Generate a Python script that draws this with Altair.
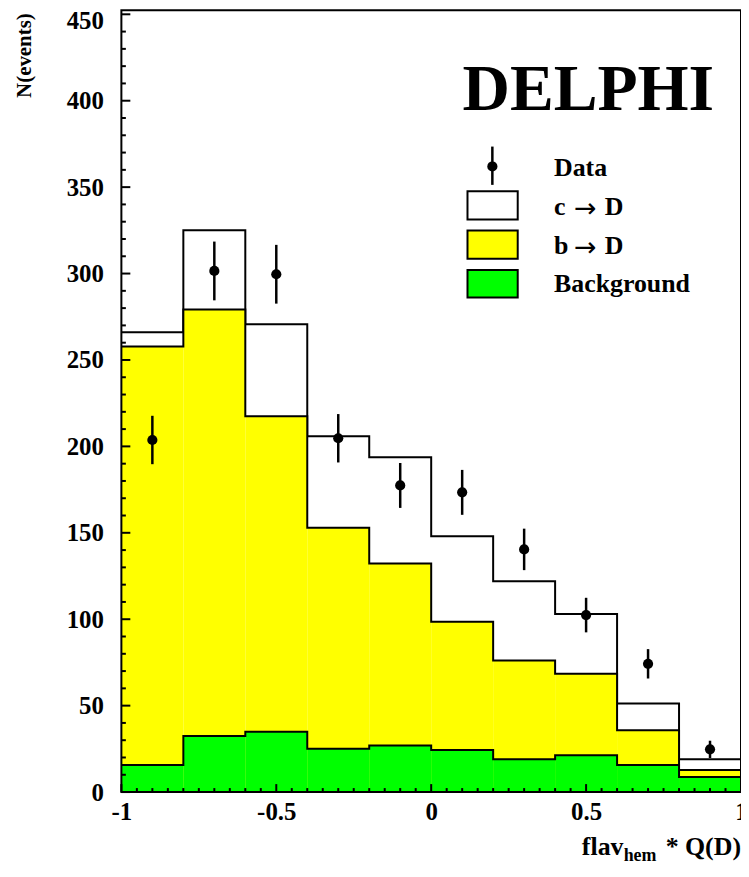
import altair as alt
import pandas as pd

# ---------------- values ----------------
bin_low = [-1.0, -0.8, -0.6, -0.4, -0.2, 0.0, 0.2, 0.4, 0.6, 0.8]
bin_high = [-0.8, -0.6, -0.4, -0.2, 0.0, 0.2, 0.4, 0.6, 0.8, 1.0]
total_mc = [266.0, 325.0, 270.6, 205.8, 193.7, 148.0, 122.0, 103.0, 51.2, 19.0]   # c->D + b->D + background
b_plus_bkg = [257.8, 279.2, 217.4, 152.9, 132.2, 98.6, 76.1, 68.5, 35.8, 12.8]   # b->D + background
background = [15.7, 32.4, 34.9, 25.0, 26.9, 24.4, 19.0, 21.3, 15.7, 8.7]
data_x = [-0.9, -0.7, -0.5, -0.3, -0.1, 0.1, 0.3, 0.5, 0.7, 0.9]
data_y = [203.7, 301.5, 299.6, 204.7, 177.4, 173.4, 140.4, 102.4, 74.2, 24.7]
data_err = [14, 17, 17, 14, 13, 13, 12, 10, 8.5, 5]
y_major = [0, 50, 100, 150, 200, 250, 300, 350, 400, 450]
x_major = [-1, -0.5, 0, 0.5, 1]
legend_labels = ["Data", "c", "b", "Background"]
legend_target = "D"
arrow = "\u2192"
experiment = "DELPHI"
y_title = "N(events)"
x_title = ["flav", "hem", "* Q(D)"]

# ---------------- styling ----------------
W, H = 623, 786
FONT = "Liberation Serif"
YELLOW = "#ffff00"
GREEN = "#00ff00"

xs = alt.Scale(domain=[-1, 1], nice=False, zero=False)
ys = alt.Scale(domain=[0, 452.3], nice=False, zero=False)

xa = alt.Axis(values=x_major, labelExpr="'' + datum.value", labelFont=FONT,
              labelFontWeight="bold", labelFontSize=25, labelColor="black",
              ticks=False, tickSize=0, domain=False, grid=False, title=None,
              labelPadding=8, labelFlush=False, labelOverlap=False)
ya = alt.Axis(values=y_major, format="d", labelFont=FONT,
              labelFontWeight="bold", labelFontSize=25, labelColor="black",
              ticks=False, tickSize=0, domain=False, grid=False, title=None,
              labelPadding=18, labelFlush=False, labelOverlap=False,
              labelOffset={"condition": {"test": "datum.value == 450", "value": 6}, "value": 0})

hist = pd.DataFrame({"lo": bin_low, "hi": bin_high, "total": total_mc,
                     "b": b_plus_bkg, "bkg": background})
step = pd.DataFrame({"x": bin_low + [bin_high[-1]],
                     "total": total_mc + [total_mc[-1]],
                     "b": b_plus_bkg + [b_plus_bkg[-1]],
                     "bkg": background + [background[-1]]})
pts = pd.DataFrame({"x": data_x, "y": data_y, "err": data_err})
pts["lo"] = pts["y"] - pts["err"]
pts["hi"] = pts["y"] + pts["err"]
one = pd.DataFrame({"a": [0]})


def rects(field, color):
    return alt.Chart(hist).mark_rect(fill=color, strokeWidth=0).encode(
        x=alt.X("lo:Q", scale=xs, axis=xa), x2="hi:Q",
        y=alt.Y(f"{field}:Q", scale=ys, axis=ya), y2=alt.datum(0))


def outline(field):
    return alt.Chart(step).mark_line(interpolate="step-after", color="black",
                                      strokeWidth=2).encode(
        x=alt.X("x:Q", scale=xs, axis=xa), y=alt.Y(f"{field}:Q", scale=ys, axis=ya))


y_minor = [v for v in range(0, 451, 10) if v % 50]
x_minor = [round(-1 + 0.05 * i, 2) for i in range(41) if i % 10]

y_major_ticks = alt.Chart(pd.DataFrame({"v": y_major})).mark_rule(color="black", strokeWidth=2).encode(
    y=alt.Y("v:Q", scale=ys, axis=ya), x=alt.value(0), x2=alt.value(9))
y_minor_ticks = alt.Chart(pd.DataFrame({"v": y_minor})).mark_rule(color="black", strokeWidth=2).encode(
    y=alt.Y("v:Q", scale=ys, axis=ya), x=alt.value(0), x2=alt.value(4.5))
x_major_ticks = alt.Chart(pd.DataFrame({"v": x_major})).mark_rule(color="black", strokeWidth=2).encode(
    x=alt.X("v:Q", scale=xs, axis=xa), y=alt.value(H), y2=alt.value(H - 8))
x_minor_ticks = alt.Chart(pd.DataFrame({"v": x_minor})).mark_rule(color="black", strokeWidth=2).encode(
    x=alt.X("v:Q", scale=xs, axis=xa), y=alt.value(H), y2=alt.value(H - 4))

errbars = alt.Chart(pts).mark_rule(color="black", strokeWidth=2.5).encode(
    x=alt.X("x:Q", scale=xs, axis=xa), y=alt.Y("lo:Q", scale=ys, axis=ya), y2="hi:Q")
points = alt.Chart(pts).mark_circle(color="black", opacity=1, size=105).encode(
    x=alt.X("x:Q", scale=xs, axis=xa), y=alt.Y("y:Q", scale=ys, axis=ya))

frame = alt.Chart(one).mark_rect(fillOpacity=0, stroke="black", strokeWidth=2).encode(
    x=alt.value(0), x2=alt.value(W), y=alt.value(0), y2=alt.value(H))


def text(s, x, y, size, align="left", baseline="alphabetic", angle=0, font=FONT):
    return alt.Chart(one).mark_text(font=font, fontWeight="bold", fontSize=size,
                                    align=align, baseline=baseline, angle=angle,
                                    color="black").encode(
        x=alt.value(x), y=alt.value(y), text=alt.value(s))


def box(y0, y1, color):
    return alt.Chart(one).mark_rect(fill=color, stroke="black", strokeWidth=2).encode(
        x=alt.value(348), x2=alt.value(398.5), y=alt.value(y0), y2=alt.value(y1))


def arrow_label(y):
    return [
        alt.Chart(one).mark_text(font="DejaVu Sans", fontSize=27, align="left",
                                 baseline="alphabetic", color="black").encode(
            x=alt.value(455), y=alt.value(y + 2), text=alt.value(arrow)),
        text(legend_target, 486, y, 26),
    ]


legend = [
    alt.Chart(one).mark_rule(color="black", strokeWidth=2.5).encode(
        x=alt.value(373), y=alt.value(137), y2=alt.value(175.5)),
    alt.Chart(one).mark_circle(color="black", opacity=1, size=105).encode(
        x=alt.value(373), y=alt.value(157)),
    box(182, 210.3, "white"),
    box(221.3, 249.7, YELLOW),
    box(261, 288.7, GREEN),
    text(legend_labels[0], 435, 166.3, 26),
    text(legend_labels[1], 435, 206, 26),
    *arrow_label(206),
    text(legend_labels[2], 435, 245.3, 26),
    *arrow_label(245.3),
    text(legend_labels[3], 435, 283.7, 26),
]

titles = [
    text(experiment, 343, 100, 66),
    text(y_title, -97, 45.5, 21, align="center", baseline="middle", angle=270),
    text(x_title[0], 463, 849, 26),
    text(x_title[1], 505, 855, 18),
    text(x_title[2], 623, 849, 26, align="right"),
]

chart = alt.layer(
    rects("total", "white"), outline("total"),
    rects("b", YELLOW), outline("b"),
    rects("bkg", GREEN), outline("bkg"),
    y_major_ticks, y_minor_ticks, x_major_ticks, x_minor_ticks,
    errbars, points, frame, *legend, *titles
).properties(
    width=W, height=H,
    autosize=alt.AutoSizeParams(type="none"),
    padding={"left": 114, "top": 0, "right": 0, "bottom": 70},
    background="white",
).configure_view(stroke="transparent")

chart.save("out.html", embed_options={"renderer": "svg", "actions": False})
